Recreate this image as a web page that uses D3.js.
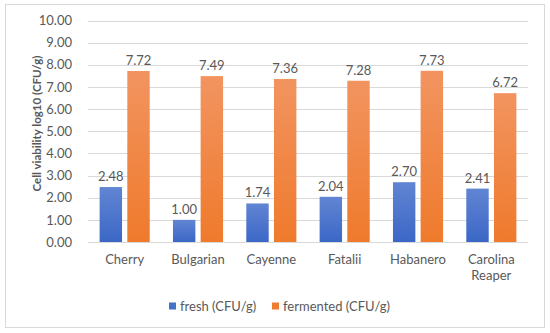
<!DOCTYPE html>
<html>
<head>
<meta charset="utf-8">
<script src="https://cdn.jsdelivr.net/npm/d3@7"></script>
<style>
  body { margin: 0; background: #fff; }
  text { font-family: Lato, "Open Sans", sans-serif; fill: #595959; }
</style>
</head>
<body>
<svg id="chart" width="550" height="333"></svg>
<script>
var categories = ['Cherry', 'Bulgarian', 'Cayenne', 'Fatalii', 'Habanero', 'Carolina Reaper'];
var fresh = [2.48, 1.00, 1.74, 2.04, 2.70, 2.41];
var fermented = [7.72, 7.49, 7.36, 7.28, 7.73, 6.72];
var seriesNames = ['fresh (CFU/g)', 'fermented (CFU/g)'];
var yTicks = [0, 1, 2, 3, 4, 5, 6, 7, 8, 9, 10];

var width = 550;
var height = 333;
var margin = { top: 20.5, right: 22, bottom: 91, left: 88 };

var svg = d3.select('#chart');

// outer frame
svg.append('rect')
  .attr('x', 5.5).attr('y', 4.5)
  .attr('width', 539).attr('height', 323)
  .attr('fill', '#fff')
  .attr('stroke', '#d9d9d9');

var defs = svg.append('defs');
var grads = [['gFresh', '#6185d3', '#3b67c6'], ['gFerm', '#f29460', '#ef7a2c']];
grads.forEach(function(g) {
  var lg = defs.append('linearGradient').attr('id', g[0])
    .attr('x1', 0).attr('y1', 0).attr('x2', 0).attr('y2', 1);
  lg.append('stop').attr('offset', '0%').attr('stop-color', g[1]);
  lg.append('stop').attr('offset', '100%').attr('stop-color', g[2]);
});

var x = d3.scaleBand()
  .domain(categories)
  .range([margin.left, width - margin.right])
  .paddingInner(0)
  .paddingOuter(0);

var inner = d3.scaleBand()
  .domain([0, 1])
  .range([0, x.bandwidth()])
  .paddingInner(0.19)
  .paddingOuter(0.42);

var y = d3.scaleLinear()
  .domain([0, 10])
  .range([height - margin.bottom, margin.top]);

// gridlines
svg.append('g')
  .selectAll('line')
  .data(yTicks)
  .enter().append('line')
  .attr('x1', margin.left)
  .attr('x2', width - margin.right)
  .attr('y1', function(d) { return Math.round(y(d)) + 0.5; })
  .attr('y2', function(d) { return Math.round(y(d)) + 0.5; })
  .attr('stroke', '#d9d9d9')
  .attr('stroke-width', 1);

// y tick labels
var yAxis = svg.append('g')
  .attr('transform', 'translate(' + (margin.left - 13) + ',0)')
  .call(d3.axisLeft(y).tickValues(yTicks).tickSize(0).tickFormat(d3.format('.2f')));
yAxis.select('.domain').remove();
yAxis.selectAll('text')
  .attr('font-size', 13)
  .attr('font-family', 'Lato, sans-serif')
  .attr('fill', '#595959');

// y axis title
svg.append('text')
  .attr('transform', 'translate(40.5,123.5) rotate(-90)')
  .attr('text-anchor', 'middle')
  .attr('font-size', 11.5)
  .attr('font-weight', 'bold')
  .text('Cell viability log10 (CFU/g)');

var rows = categories.map(function(c, i) {
  return { cat: c, vals: [fresh[i], fermented[i]] };
});

var groups = svg.append('g')
  .selectAll('g')
  .data(rows)
  .enter().append('g')
  .attr('transform', function(d) { return 'translate(' + x(d.cat) + ',0)'; });

groups.selectAll('rect')
  .data(function(d) { return d.vals; })
  .enter().append('rect')
  .attr('x', function(d, i) { return inner(i); })
  .attr('width', inner.bandwidth())
  .attr('y', function(d) { return y(d); })
  .attr('height', function(d) { return y(0) - y(d); })
  .attr('fill', function(d, i) { return i === 0 ? 'url(#gFresh)' : 'url(#gFerm)'; });

groups.selectAll('text.val')
  .data(function(d) { return d.vals; })
  .enter().append('text')
  .attr('class', 'val')
  .attr('x', function(d, i) { return inner(i) + inner.bandwidth() / 2; })
  .attr('y', function(d) { return y(d) - 6; })
  .attr('text-anchor', 'middle')
  .attr('font-size', 13)
  .text(function(d) { return d3.format('.2f')(d); });

// category labels
var catLabels = svg.append('g')
  .selectAll('text')
  .data(categories)
  .enter().append('text')
  .attr('text-anchor', 'middle')
  .attr('font-size', 13)
  .attr('x', function(d) { return x(d) + x.bandwidth() / 2; })
  .attr('y', y(0) + 22);

catLabels.each(function(d) {
  var words = d.split(' ');
  var t = d3.select(this);
  words.forEach(function(w, i) {
    t.append('tspan')
      .attr('x', x(d) + x.bandwidth() / 2)
      .attr('dy', i === 0 ? 0 : 16)
      .text(w);
  });
});

// legend
var legendX = [169, 272];
var legend = svg.append('g')
  .selectAll('g')
  .data(seriesNames)
  .enter().append('g')
  .attr('transform', function(d, i) { return 'translate(' + legendX[i] + ',306)'; });

legend.append('rect')
  .attr('x', 0).attr('y', -3.5)
  .attr('width', 7).attr('height', 7)
  .attr('fill', function(d, i) { return i === 0 ? '#4472c4' : '#ed7d31'; });

legend.append('text')
  .attr('x', 11)
  .attr('y', 4.5)
  .attr('font-size', 13)
  .text(function(d) { return d; });
</script>
</body>
</html>
